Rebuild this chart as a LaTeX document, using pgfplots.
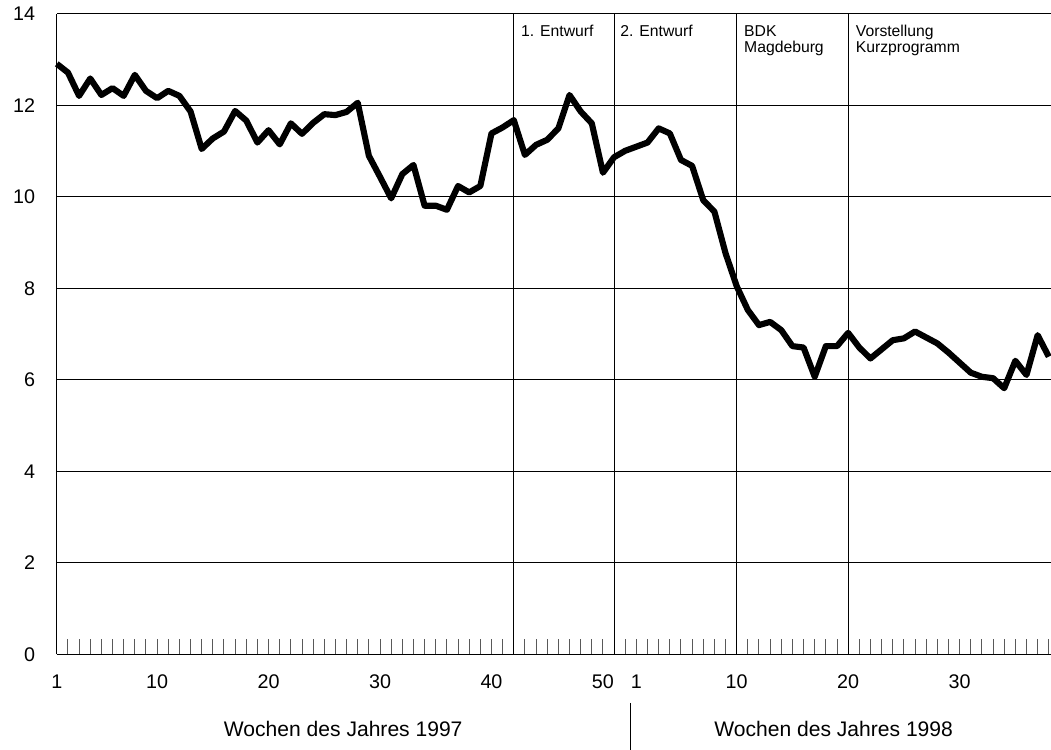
\documentclass[border=0pt]{standalone}
\usepackage{fontspec}
\setmainfont{Liberation Sans}
\usepackage{pgfplots}
\pgfplotsset{compat=1.18}

% index 0 = week 1 of 1997, index 52 = week 1 of 1998
\pgfplotstableread{
x y
0 12.91
1 12.72
2 12.21
3 12.59
4 12.23
5 12.38
6 12.21
7 12.67
8 12.32
9 12.16
10 12.32
11 12.21
12 11.87
13 11.05
14 11.28
15 11.43
16 11.88
17 11.67
18 11.19
19 11.46
20 11.15
21 11.61
22 11.38
23 11.62
24 11.81
25 11.79
26 11.86
27 12.06
28 10.90
29 10.44
30 9.97
31 10.50
32 10.70
33 9.81
34 9.81
35 9.72
36 10.24
37 10.10
38 10.24
39 11.39
40 11.52
41 11.68
42 10.92
43 11.14
44 11.25
45 11.50
46 12.23
47 11.87
48 11.61
49 10.53
50 10.87
51 11.01
52 11.10
53 11.19
54 11.50
55 11.39
56 10.81
57 10.68
58 9.93
59 9.68
60 8.77
61 8.05
62 7.53
63 7.20
64 7.27
65 7.09
66 6.74
67 6.71
68 6.07
69 6.74
70 6.74
71 7.03
72 6.71
73 6.47
74 6.67
75 6.87
76 6.91
77 7.06
78 6.93
79 6.80
80 6.60
81 6.38
82 6.16
83 6.07
84 6.04
85 5.82
86 6.42
87 6.11
88 6.98
89 6.51
}\weeks

\newcommand{\tickfont}{\fontsize{14.8}{17}\selectfont}
\newcommand{\labelfont}{\fontsize{15.8}{18}\selectfont}
\newcommand{\notefont}{\fontsize{11.8}{14}\selectfont}

\begin{document}
\begin{tikzpicture}
\begin{axis}[
    name=ax,
    scale only axis,
    width=745.7pt, height=480.4pt,
    xmin=0, xmax=89.2,
    ymin=0, ymax=14,
    axis x line*=bottom,
    axis y line*=left,
    axis line style={black, line width=0.9pt},
    clip=false,
    xtick={0,9,19,29,39,49,52,61,71,81},
    xticklabels={1,10,20,30,40,50,1,10,20,30},
    minor xtick={1,...,89},
    major tick length=0pt,
    minor tick length=11.25pt,
    xtick align=inside,
    minor x tick style={black!65, line width=0.75pt},
    xticklabel shift=11.5pt,
    ytick={0,2,...,14},
    ytick style={draw=none},
    yticklabel shift=12.8pt,
    ymajorgrids,
    major grid style={black, line width=0.75pt},
    ticklabel style={font=\tickfont},
    /pgf/number format/assume math mode=true,
]
\draw[black, line width=0.75pt] (axis cs:41,0) -- (axis cs:41,14);
\draw[black, line width=0.75pt] (axis cs:50,0) -- (axis cs:50,14);
\draw[black, line width=0.75pt] (axis cs:61,0) -- (axis cs:61,14);
\draw[black, line width=0.75pt] (axis cs:71,0) -- (axis cs:71,14);

\addplot[black, line width=4.6pt, line join=round, mark=none] table[x=x, y=y] {\weeks};

\node[anchor=base west, font=\notefont, inner sep=0pt, xshift=5.4pt] at (axis cs:41,13.50) {1. Entwurf};
\node[anchor=base west, font=\notefont, inner sep=0pt, xshift=4.6pt] at (axis cs:50,13.50) {2. Entwurf};
\node[anchor=base west, font=\notefont, inner sep=0pt, xshift=5.4pt] at (axis cs:61,13.50) {BDK};
\node[anchor=base west, font=\notefont, inner sep=0pt, xshift=5.4pt] at (axis cs:61,13.15) {Magdeburg};
\node[anchor=base west, font=\notefont, inner sep=0pt, xshift=5.6pt] at (axis cs:71,13.50) {Vorstellung};
\node[anchor=base west, font=\notefont, inner sep=0pt, xshift=5.6pt] at (axis cs:71,13.15) {Kurzprogramm};

\node[anchor=base, font=\labelfont, inner sep=0pt] at (axis cs:25.7,-1.80) {Wochen des Jahres 1997};
\node[anchor=base, font=\labelfont, inner sep=0pt] at (axis cs:69.7,-1.80) {Wochen des Jahres 1998};
\draw[black, line width=0.75pt] (axis cs:51.5,-1.06) -- (axis cs:51.5,-2.3);
\end{axis}
\pgfresetboundingbox
\path[use as bounding box] ([shift={(-42.6pt,-70.9pt)}]ax.south west) rectangle ([shift={(0pt,10.5pt)}]ax.north east);
\end{tikzpicture}
\end{document}
